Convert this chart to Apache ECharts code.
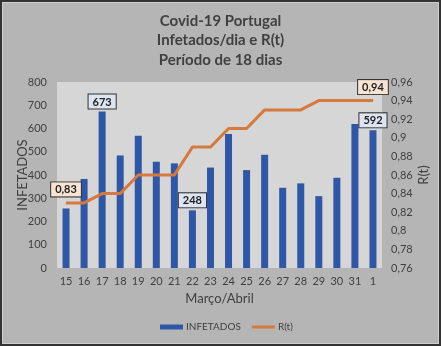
<!DOCTYPE html>
<html><head><meta charset="utf-8">
<script src="https://cdn.jsdelivr.net/npm/echarts@6/dist/echarts.min.js"></script>
<style>html,body{margin:0;padding:0;background:#b5b5b5}#c{width:441px;height:346px}</style>
</head><body><div id="c"></div>
<script>
const categories = ['15','16','17','18','19','20','21','22','23','24','25','26','27','28','29','30','31','1'];
const infetados = [256, 383, 673, 484, 569, 457, 450, 248, 432, 576, 421, 487, 345, 364, 309, 388, 619, 592];
const rt = [0.83, 0.83, 0.84, 0.84, 0.86, 0.86, 0.86, 0.89, 0.89, 0.91, 0.91, 0.93, 0.93, 0.93, 0.94, 0.94, 0.94, 0.94];
const labeledBars = [2, 7, 17];
const labeledRt = [0, 17];

const FONT = 'Lato';
const TXT = '#404040';
const fmtComma = v => String(+(+v).toFixed(2)).replace('.', ',');

const barLabel = {
  show: true, position: 'top', distance: 3, color: '#222', fontFamily: FONT, fontWeight: 'bold', fontSize: 11,
  backgroundColor: '#dde5f1', borderColor: '#333', borderWidth: 1, padding: [2, 4, 1, 4]
};
const rtLabel = {
  show: true, position: 'top', distance: 6, color: '#222', fontFamily: FONT, fontWeight: 'bold', fontSize: 11,
  backgroundColor: '#f9e4d3', borderColor: '#333', borderWidth: 1, padding: [2, 4, 1, 4],
  formatter: p => fmtComma(p.value)
};

const chart = echarts.init(document.getElementById('c'), null, {renderer: 'canvas'});
chart.setOption({
  backgroundColor: '#b5b5b5',
  animation: false,
  textStyle: {fontFamily: FONT},
  title: {
    text: 'Covid-19 Portugal\nInfetados/dia e R(t)\nPeríodo de 18 dias',
    left: 'center', top: 6,
    textStyle: {fontFamily: FONT, fontWeight: 'bold', fontSize: 15, color: TXT, lineHeight: 19.5}
  },
  legend: {
    bottom: 14, left: 160, padding: 0, itemGap: 11, itemWidth: 23, itemHeight: 5,
    textStyle: {fontFamily: FONT, fontSize: 10, color: TXT, padding: [0, 0, 0, -2]},
    data: [{name: 'INFETADOS', icon: 'rect'}, {name: 'R(t)', icon: 'path://M0,0 L23,0 L23,3 L0,3 Z'}]
  },
  grid: {left: 57, right: 59, top: 82, bottom: 78, show: true, backgroundColor: '#d6d6d6', borderWidth: 0,
         containLabel: false, outerBoundsMode: 'none'},
  xAxis: {
    type: 'category', data: categories,
    name: 'Março/Abril', nameLocation: 'middle', nameGap: 24, nameMoveOverlap: false,
    nameTextStyle: {fontFamily: FONT, fontSize: 13, color: TXT},
    axisLine: {show: false}, axisTick: {show: false},
    axisLabel: {color: TXT, fontSize: 11, fontFamily: FONT, margin: 8}
  },
  yAxis: [{
    type: 'value', min: 0, max: 800, interval: 100,
    name: 'INFETADOS', nameLocation: 'middle', nameGap: 28, nameRotate: 90, nameMoveOverlap: false,
    nameTextStyle: {fontFamily: FONT, fontSize: 13, color: TXT},
    axisLine: {show: false}, axisTick: {show: false}, splitLine: {show: false},
    axisLabel: {color: TXT, fontSize: 11, fontFamily: FONT, margin: 10}
  }, {
    type: 'value', min: 0.76, max: 0.96, interval: 0.02, position: 'right',
    name: 'R(t)', nameLocation: 'middle', nameGap: 35, nameRotate: 90, nameMoveOverlap: false,
    nameTextStyle: {fontFamily: FONT, fontSize: 13, color: TXT},
    axisLine: {show: false}, axisTick: {show: false}, splitLine: {show: false},
    axisLabel: {color: TXT, fontSize: 11, fontFamily: FONT, margin: 9, formatter: v => fmtComma(v)}
  }],
  series: [{
    name: 'INFETADOS', type: 'bar', yAxisIndex: 0, barWidth: 7,
    itemStyle: {color: '#2f57a7'},
    data: infetados.map((v, i) => labeledBars.includes(i) ? {value: v, label: barLabel} : v)
  }, {
    name: 'R(t)', type: 'line', yAxisIndex: 1, symbol: 'circle', symbolSize: 1, showSymbol: true, z: 5,
    lineStyle: {color: '#d5793d', width: 3}, itemStyle: {color: '#d5793d'},
    data: rt.map((v, i) => labeledRt.includes(i) ? {value: v, label: rtLabel} : v)
  }],
  graphic: [{
    type: 'rect', shape: {x: 1, y: 1, width: 439, height: 344},
    style: {fill: 'none', stroke: '#333', lineWidth: 2}, z: 100
  }, {
    type: 'rect', shape: {x: 2.5, y: 2.5, width: 436, height: 341},
    style: {fill: 'none', stroke: '#cfcfcf', lineWidth: 1}, z: 100
  }]
});
</script></body></html>
